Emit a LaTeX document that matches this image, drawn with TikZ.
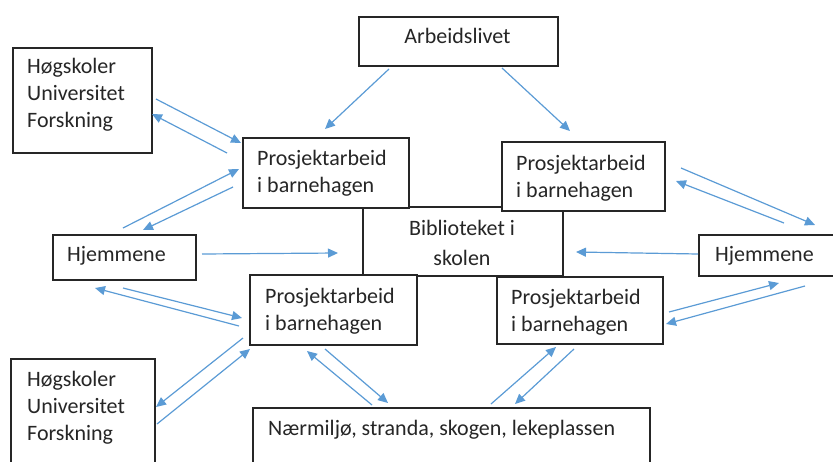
\documentclass[tikz,border=0pt]{standalone}
\usepackage{fontspec}
\setmainfont{Carlito}
\usetikzlibrary{arrows.meta}
\definecolor{arrowblue}{HTML}{5B9BD5}
\definecolor{txt}{HTML}{262626}
\begin{document}
\begin{tikzpicture}[x=1pt,y=-1pt,
  box/.style={draw=black!85, line width=1.5pt, fill=white, inner sep=0pt, anchor=north west},
  lbl/.style={font=\fontsize{22}{27}\selectfont, text=txt, inner sep=0pt, align=left, anchor=base west},
  clbl/.style={font=\fontsize{22}{30}\selectfont, text=txt, inner sep=0pt, align=center, anchor=base},
  link/.style={draw=arrowblue, line width=1.2pt, -{Triangle[length=10pt,width=9pt]}}]
\useasboundingbox (0,0) rectangle (833,461);
% boxes
\node[box, minimum width=199pt, minimum height=49pt] (arb) at (358,16) {};
\node[box, minimum width=139pt, minimum height=105pt] (huf1) at (12,47) {};
\node[box, minimum width=200pt, minimum height=69pt] (bib) at (362,206) {};
\node[box, minimum width=166pt, minimum height=70pt] (pbtl) at (242,137) {};
\node[box, minimum width=163pt, minimum height=69pt] (pbtr) at (501,141) {};
\node[box, minimum width=143pt, minimum height=45pt] (hjl) at (52,234) {};
\node[box, minimum width=150pt, minimum height=41pt] (hjr) at (698,234) {};
\node[box, minimum width=167pt, minimum height=70pt] (pbbl) at (249,274) {};
\node[box, minimum width=166pt, minimum height=67pt] (pbbr) at (496,276) {};
\node[box, minimum width=144pt, minimum height=120pt] (huf2) at (10,358) {};
\node[box, minimum width=397pt, minimum height=70pt] (naer) at (252,407) {};
% texts (base = baseline of the last line)
\node[clbl] (tarb) at (457.5,43) {Arbeidslivet};
\node[lbl] (thuf1) at (27,127) {Høgskoler\\Universitet\\Forskning};
\node[clbl] (tbib) at (462,265) {Biblioteket i\\skolen};
\node[lbl] (tpbtl) at (257,192) {Prosjektarbeid\\i barnehagen};
\node[lbl] (tpbtr) at (516,197) {Prosjektarbeid\\i barnehagen};
\node[lbl] (thjl) at (67,261) {Hjemmene};
\node[lbl] (thjr) at (715,261) {Hjemmene};
\node[lbl] (tpbbl) at (265,330) {Prosjektarbeid\\i barnehagen};
\node[lbl] (tpbbr) at (511,331) {Prosjektarbeid\\i barnehagen};
\node[lbl] (thuf2) at (27,440) {Høgskoler\\Universitet\\Forskning};
\node[lbl] (tnaer) at (268,435) {Nærmiljø, stranda, skogen, lekeplassen};
% arrow end points
\coordinate (a1s) at (389,69);  \coordinate (a1e) at (325,129);
\coordinate (a2s) at (502,68);  \coordinate (a2e) at (570,131);
\coordinate (a3s) at (156,99);  \coordinate (a3e) at (241,143);
\coordinate (a4s) at (227,153); \coordinate (a4e) at (152,114);
\coordinate (a5s) at (123,228); \coordinate (a5e) at (239,169);
\coordinate (a6s) at (233,187); \coordinate (a6e) at (143,230);
\coordinate (a7s) at (681,168); \coordinate (a7e) at (815,225);
\coordinate (a8s) at (784,223); \coordinate (a8e) at (676,181);
\coordinate (a9s) at (202,254); \coordinate (a9e) at (338,253);
\coordinate (a10s) at (698,254); \coordinate (a10e) at (576,252);
\coordinate (a11s) at (123,288); \coordinate (a11e) at (242,318);
\coordinate (a12s) at (239,326); \coordinate (a12e) at (95,288);
\coordinate (a13s) at (243,338); \coordinate (a13e) at (156,407);
\coordinate (a14s) at (157,424); \coordinate (a14e) at (250,349);
\coordinate (a15s) at (325,349); \coordinate (a15e) at (388,403);
\coordinate (a16s) at (372,405); \coordinate (a16e) at (307,351);
\coordinate (a17s) at (491,404); \coordinate (a17e) at (556,347);
\coordinate (a18s) at (574,349); \coordinate (a18e) at (515,404);
\coordinate (a19s) at (669,312); \coordinate (a19e) at (779,283);
\coordinate (a20s) at (805,286); \coordinate (a20e) at (666,324);
\foreach \i in {1,...,20} { \draw[link] (a\i s) -- (a\i e); }
\end{tikzpicture}
\end{document}
